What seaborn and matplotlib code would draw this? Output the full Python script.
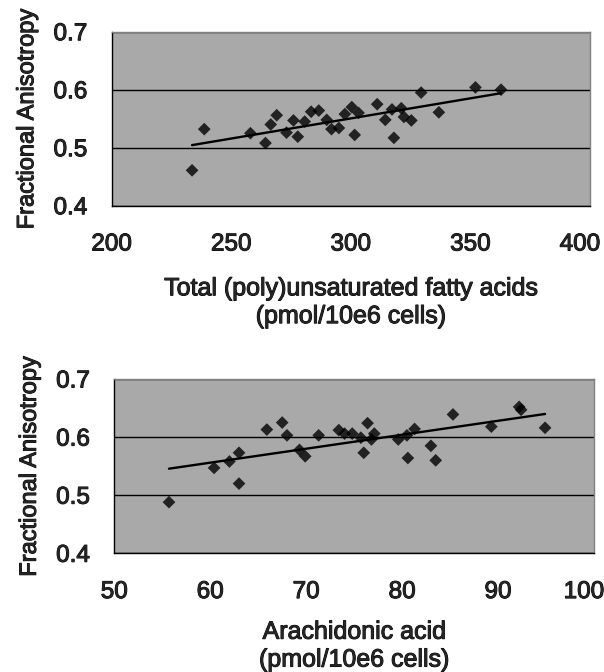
import numpy as np
import pandas as pd
import matplotlib
matplotlib.use("Agg")
import matplotlib.pyplot as plt
import matplotlib.transforms as mtransforms
import matplotlib.patheffects as pe
import seaborn as sns

# ---- data ----
pufa_total = [233.6, 238.7, 258.0, 264.3, 266.5, 269.0, 273.1, 276.0, 277.8, 280.7,
              283.4, 286.6, 289.9, 291.9, 295.0, 297.5, 300.4, 301.6, 303.2, 311.0,
              314.4, 317.2, 318.0, 321.1, 322.2, 325.3, 329.4, 336.8, 352.1, 362.8]
fa_top = [0.461, 0.532, 0.525, 0.508, 0.540, 0.556, 0.526, 0.547, 0.519, 0.545,
          0.562, 0.564, 0.548, 0.532, 0.534, 0.558, 0.570, 0.522, 0.560, 0.575,
          0.548, 0.566, 0.517, 0.568, 0.553, 0.547, 0.595, 0.561, 0.604, 0.600]

arachidonic = [55.7, 60.4, 62.0, 63.0, 63.0, 65.9, 67.5, 68.0, 69.3, 69.9,
               71.3, 73.4, 74.0, 74.8, 75.7, 76.0, 76.4, 76.8, 77.1, 79.6,
               80.5, 80.6, 81.3, 83.0, 83.5, 85.3, 89.3, 92.2, 92.4, 94.9]
fa_bottom = [0.488, 0.547, 0.558, 0.573, 0.520, 0.613, 0.625, 0.603, 0.578, 0.567,
             0.603, 0.612, 0.606, 0.606, 0.599, 0.573, 0.624, 0.596, 0.606, 0.596,
             0.603, 0.564, 0.614, 0.585, 0.560, 0.639, 0.618, 0.652, 0.647, 0.616]

top_xticks = [200, 250, 300, 350, 400]
bottom_xticks = [50, 60, 70, 80, 90, 100]
yticks = [0.4, 0.5, 0.6, 0.7]
ylabels = ["0.4", "0.5", "0.6", "0.7"]

top_xlabel = "Total (poly)unsaturated fatty acids\n(pmol/10e6 cells)"
bottom_xlabel = "Arachidonic acid\n(pmol/10e6 cells)"
ylabel_text = "Fractional Anisotropy"

df_top = pd.DataFrame({"x": pufa_total, "y": fa_top})
df_bot = pd.DataFrame({"x": arachidonic, "y": fa_bottom})

sns.set_style("white")
plt.rcParams["font.family"] = ["Liberation Sans", "DejaVu Sans"]

FS = 17.5
THICK = [pe.withStroke(linewidth=0.7, foreground="black")]
fig = plt.figure(figsize=(6.04, 6.72), dpi=100)
fig.patch.set_facecolor("white")
ax1 = fig.add_axes([111.7 / 604, 1 - 205.7 / 672, (590 - 111.7) / 604, (205.7 - 31.7) / 672])
ax2 = fig.add_axes([114.3 / 604, 1 - 553.3 / 672, (594 - 114.3) / 604, (553.3 - 379) / 672])


def style(ax, df, xticks, xlabel, xlabelpad):
    ax.set_facecolor("#A9A9A9")
    sns.regplot(data=df, x="x", y="y", ax=ax, ci=None, truncate=True,
                marker="D", color="black",
                scatter_kws={"s": 42, "edgecolors": "none", "zorder": 4},
                line_kws={"lw": 1.7, "color": "black", "zorder": 3})
    ax.set_xlim(xticks[0], xticks[-1])
    ax.set_ylim(0.4, 0.7)
    ax.set_xticks(xticks)
    ax.set_xticklabels([str(t) for t in xticks], fontsize=FS)
    ax.set_yticks(yticks)
    ax.set_yticklabels(ylabels, fontsize=FS)
    ax.yaxis.grid(True, color="black", lw=1.0, zorder=1)
    ax.xaxis.grid(False)
    ax.set_axisbelow(True)
    ax.tick_params(axis="both", direction="out", length=5, width=1, color="black")
    ax.tick_params(axis="x", pad=15)
    ax.tick_params(axis="y", pad=12.5)
    for s in ["left", "bottom"]:
        ax.spines[s].set_color("black")
        ax.spines[s].set_linewidth(1.0)
    for s in ["top", "right"]:
        ax.spines[s].set_color("#808080")
        ax.spines[s].set_linewidth(1.0)
        ax.spines[s].set_visible(True)
    ax.set_xlabel(xlabel, fontsize=FS + 0.5, labelpad=xlabelpad, linespacing=1.2)
    ax.set_ylabel(ylabel_text, fontsize=FS - 0.5, labelpad=11)
    # last tick label is nudged inwards so it stays inside the chart, as in the reference
    last = ax.get_xticklabels()[-1]
    last.set_transform(last.get_transform() +
                       mtransforms.ScaledTranslation(-0.1, 0, fig.dpi_scale_trans))
    for t in ax.get_xticklabels() + ax.get_yticklabels() + [ax.xaxis.label, ax.yaxis.label]:
        t.set_path_effects(THICK)


style(ax1, df_top, top_xticks, top_xlabel, 15)
style(ax2, df_bot, bottom_xticks, bottom_xlabel, 12)

fig.savefig("out.png", dpi=100, facecolor="white")
